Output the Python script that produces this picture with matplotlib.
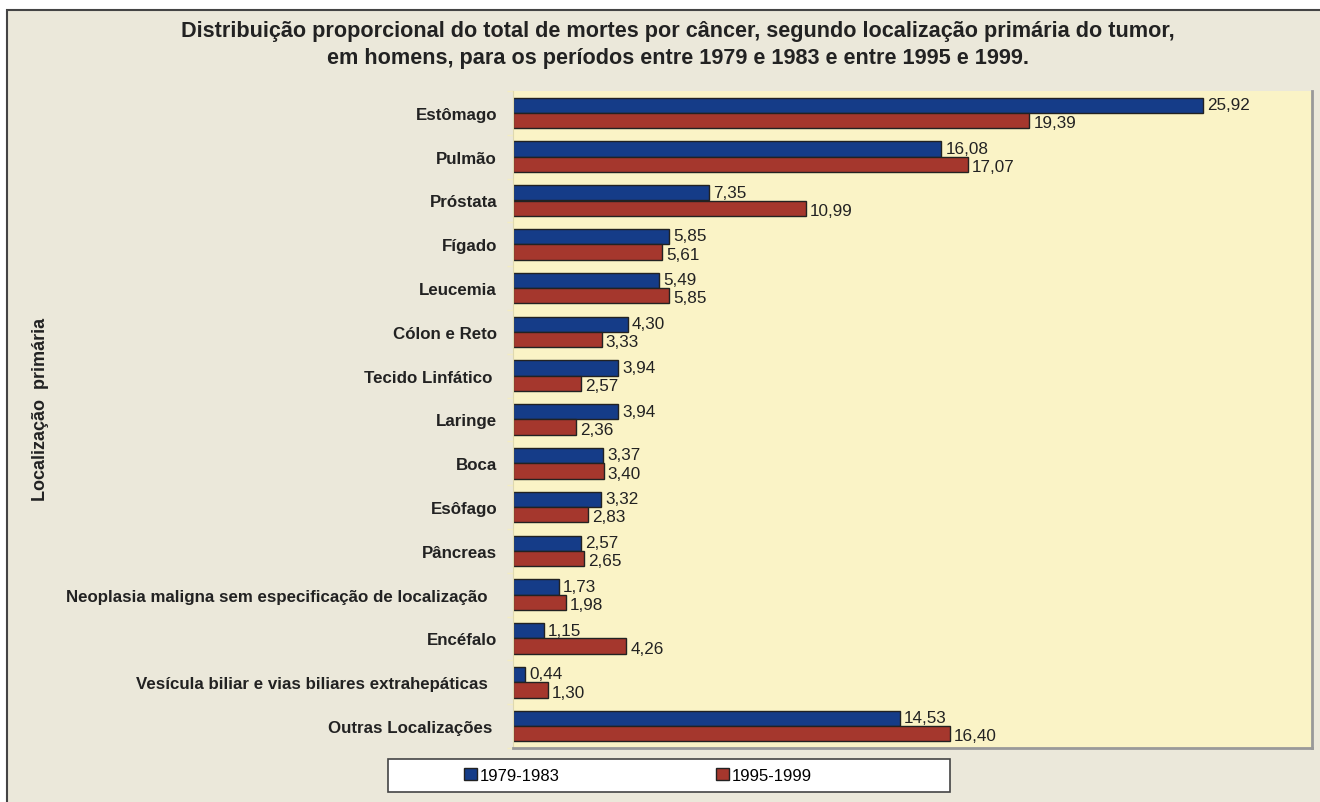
import numpy as np
import matplotlib
matplotlib.use("Agg")
import matplotlib.pyplot as plt
from matplotlib.patches import Rectangle, Patch

plt.rcParams['font.family'] = ['Liberation Sans', 'DejaVu Sans']

# dados
locais = ["Estômago", "Pulmão", "Próstata", "Fígado", "Leucemia", "Cólon e Reto",
          "Tecido Linfático ", "Laringe", "Boca", "Esôfago", "Pâncreas",
          "Neoplasia maligna sem especificação de localização  ",
          "Encéfalo", "Vesícula biliar e vias biliares extrahepáticas  ",
          "Outras Localizações "]
p1979 = [25.92, 16.08, 7.35, 5.85, 5.49, 4.30, 3.94, 3.94, 3.37, 3.32, 2.57, 1.73, 1.15, 0.44, 14.53]
p1995 = [19.39, 17.07, 10.99, 5.61, 5.85, 3.33, 2.57, 2.36, 3.40, 2.83, 2.65, 1.98, 4.26, 1.30, 16.40]
series_labels = ["1979-1983", "1995-1999"]

blue = '#153c88'
red = '#a5372d'
bg = '#ebe8da'
plot_bg = '#faf3c6'
txt = '#222222'

W, H = 1320, 803
fig = plt.figure(figsize=(W / 100, H / 100), dpi=100, facecolor='white')

# fundo com borda
fig.patches.append(Rectangle((7 / W, -0.02), 1.05, (803 - 11) / H + 0.02,
                             transform=fig.transFigure, facecolor=bg,
                             edgecolor='#444444', linewidth=1.5, zorder=-10))

ax = fig.add_axes([513 / W, 1 - 749 / H, (1312 - 513) / W, (749 - 92) / H])
ax.set_facecolor(plot_bg)

y = np.arange(len(locais))
h = 0.35
ax.barh(y - h / 2, p1979, height=h, color=blue, edgecolor='#222222', linewidth=1, label=series_labels[0])
ax.barh(y + h / 2, p1995, height=h, color=red, edgecolor='#222222', linewidth=1, label=series_labels[1])

for i in range(len(locais)):
    ax.annotate(f"{p1979[i]:.2f}".replace('.', ','), (p1979[i], y[i] - h / 2),
                xytext=(3, 0.5), textcoords='offset points', ha='left', va='center',
                fontsize=12.3, color=txt)
    ax.annotate(f"{p1995[i]:.2f}".replace('.', ','), (p1995[i], y[i] + h / 2),
                xytext=(3, -1.5), textcoords='offset points', ha='left', va='center',
                fontsize=12.3, color=txt)

ax.set_xlim(0, 30)
ax.set_ylim(len(locais) - 0.5, -0.5)
ax.set_xticks([])
ax.set_yticks(y)
ax.set_yticklabels(locais, fontsize=12.2, fontweight='bold', color=txt)
ax.tick_params(axis='y', which='major', length=0, pad=11.5)
ax.set_yticks(np.arange(len(locais) + 1) - 0.5, minor=True)
ax.tick_params(axis='y', which='minor', length=4, color='#f3edc4', width=1)

ax.spines['top'].set_visible(False)
ax.spines['left'].set_color('#ded8b0')
ax.spines['right'].set_color('#999999')
ax.spines['right'].set_linewidth(2)
ax.spines['bottom'].set_color('#999999')
ax.spines['bottom'].set_linewidth(2)

fig.text(41 / W, 1 - 409 / H, "Localização  primária", rotation=90, ha='center', va='center',
         fontsize=13, fontweight='bold', color=txt)

fig.text(678 / W, 1 - 45 / H,
         "Distribuição proporcional do total de mortes por câncer, segundo localização primária do tumor,\n"
         "em homens, para os períodos entre 1979 e 1983 e entre 1995 e 1999.",
         ha='center', va='center', fontsize=15.6, fontweight='bold', color=txt, linespacing=1.34)

# legenda
fig.patches.append(Rectangle((388 / W, 1 - 793 / H), (950 - 388) / W, 33 / H,
                             transform=fig.transFigure, facecolor='white',
                             edgecolor='#444444', linewidth=1.2, zorder=1))
handles = [Patch(facecolor=blue, edgecolor='#222222'), Patch(facecolor=red, edgecolor='#222222')]
leg = fig.legend(handles, series_labels, loc='center left', bbox_to_anchor=(464 / W, 1 - 776.5 / H),
                 ncol=2, frameon=False, fontsize=12, handlelength=0.75, handleheight=0.75,
                 handletextpad=0.2, columnspacing=9.4, borderpad=0, borderaxespad=0)
leg.set_zorder(5)

fig.savefig('out.png', dpi=100, facecolor=fig.get_facecolor())
